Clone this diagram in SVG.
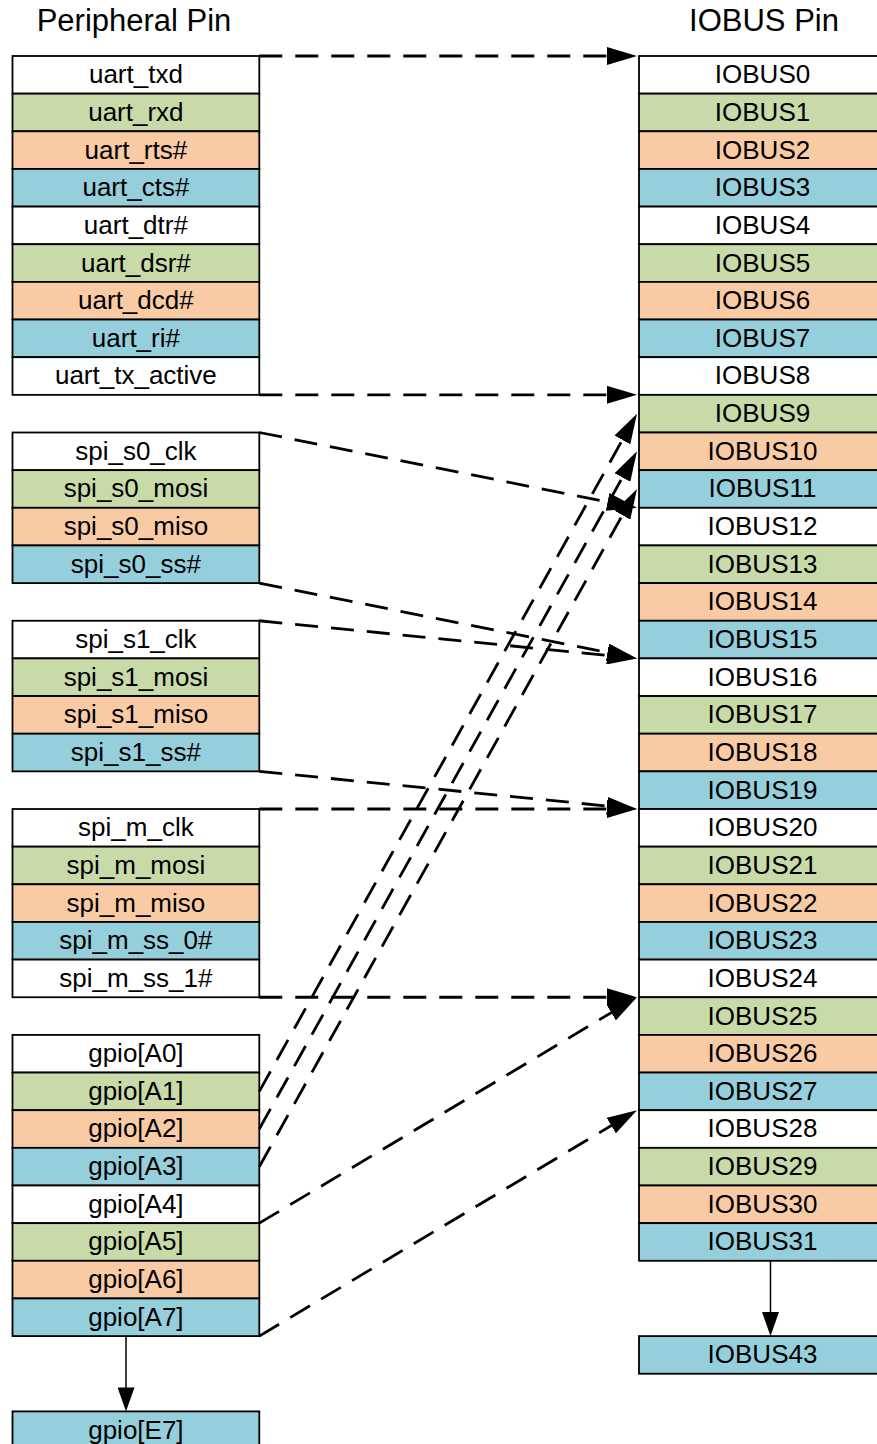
<svg xmlns="http://www.w3.org/2000/svg" width="877" height="1444" viewBox="0 0 877 1444">
<style>
.cell{stroke:#000;stroke-width:1.8}
.w{fill:#ffffff}.g{fill:#c9daa9}.o{fill:#f9cba5}.b{fill:#96cfdc}
text{font-family:"Liberation Sans",Arial,sans-serif;fill:#000}
.lbl{font-size:26px;text-anchor:middle}
.title{font-size:31px;text-anchor:middle}
.dash{fill:none;stroke:#000;stroke-width:2.8;stroke-dasharray:23 13;marker-end:url(#ah)}
.solid{fill:none;stroke:#000;stroke-width:1.5;marker-end:url(#sa)}
</style>
<defs>
<marker id="ah" markerUnits="userSpaceOnUse" markerWidth="30" markerHeight="18" refX="22" refY="9" orient="auto"><path d="M0,0 L30,9 L0,18 z" fill="#000"/></marker>
<marker id="sa" markerUnits="userSpaceOnUse" markerWidth="24" markerHeight="17" refX="20" refY="8.5" orient="auto"><path d="M0,0 L24,8.5 L0,17 z" fill="#000"/></marker>
</defs>
<rect width="877" height="1444" fill="#fff"/>
<text class="title" x="134" y="31">Peripheral Pin</text>
<text class="title" x="764" y="31">IOBUS Pin</text>

<g id="peripheral">
<g id="uart_txd" transform="translate(12.5,56)"><rect class="cell w" width="246.8" height="37.65"/><text class="lbl" x="123.4" y="27.3">uart_txd</text></g>
<g id="uart_rxd" transform="translate(12.5,93.65)"><rect class="cell g" width="246.8" height="37.65"/><text class="lbl" x="123.4" y="27.3">uart_rxd</text></g>
<g id="uart_rts" transform="translate(12.5,131.3)"><rect class="cell o" width="246.8" height="37.65"/><text class="lbl" x="123.4" y="27.3">uart_rts#</text></g>
<g id="uart_cts" transform="translate(12.5,168.95)"><rect class="cell b" width="246.8" height="37.65"/><text class="lbl" x="123.4" y="27.3">uart_cts#</text></g>
<g id="uart_dtr" transform="translate(12.5,206.6)"><rect class="cell w" width="246.8" height="37.65"/><text class="lbl" x="123.4" y="27.3">uart_dtr#</text></g>
<g id="uart_dsr" transform="translate(12.5,244.25)"><rect class="cell g" width="246.8" height="37.65"/><text class="lbl" x="123.4" y="27.3">uart_dsr#</text></g>
<g id="uart_dcd" transform="translate(12.5,281.9)"><rect class="cell o" width="246.8" height="37.65"/><text class="lbl" x="123.4" y="27.3">uart_dcd#</text></g>
<g id="uart_ri" transform="translate(12.5,319.55)"><rect class="cell b" width="246.8" height="37.65"/><text class="lbl" x="123.4" y="27.3">uart_ri#</text></g>
<g id="uart_tx_active" transform="translate(12.5,357.2)"><rect class="cell w" width="246.8" height="37.65"/><text class="lbl" x="123.4" y="27.3">uart_tx_active</text></g>

<g id="spi_s0_clk" transform="translate(12.5,432.5)"><rect class="cell w" width="246.8" height="37.65"/><text class="lbl" x="123.4" y="27.3">spi_s0_clk</text></g>
<g id="spi_s0_mosi" transform="translate(12.5,470.15)"><rect class="cell g" width="246.8" height="37.65"/><text class="lbl" x="123.4" y="27.3">spi_s0_mosi</text></g>
<g id="spi_s0_miso" transform="translate(12.5,507.8)"><rect class="cell o" width="246.8" height="37.65"/><text class="lbl" x="123.4" y="27.3">spi_s0_miso</text></g>
<g id="spi_s0_ss" transform="translate(12.5,545.45)"><rect class="cell b" width="246.8" height="37.65"/><text class="lbl" x="123.4" y="27.3">spi_s0_ss#</text></g>

<g id="spi_s1_clk" transform="translate(12.5,620.75)"><rect class="cell w" width="246.8" height="37.65"/><text class="lbl" x="123.4" y="27.3">spi_s1_clk</text></g>
<g id="spi_s1_mosi" transform="translate(12.5,658.4)"><rect class="cell g" width="246.8" height="37.65"/><text class="lbl" x="123.4" y="27.3">spi_s1_mosi</text></g>
<g id="spi_s1_miso" transform="translate(12.5,696.05)"><rect class="cell o" width="246.8" height="37.65"/><text class="lbl" x="123.4" y="27.3">spi_s1_miso</text></g>
<g id="spi_s1_ss" transform="translate(12.5,733.7)"><rect class="cell b" width="246.8" height="37.65"/><text class="lbl" x="123.4" y="27.3">spi_s1_ss#</text></g>

<g id="spi_m_clk" transform="translate(12.5,809)"><rect class="cell w" width="246.8" height="37.65"/><text class="lbl" x="123.4" y="27.3">spi_m_clk</text></g>
<g id="spi_m_mosi" transform="translate(12.5,846.65)"><rect class="cell g" width="246.8" height="37.65"/><text class="lbl" x="123.4" y="27.3">spi_m_mosi</text></g>
<g id="spi_m_miso" transform="translate(12.5,884.3)"><rect class="cell o" width="246.8" height="37.65"/><text class="lbl" x="123.4" y="27.3">spi_m_miso</text></g>
<g id="spi_m_ss_0" transform="translate(12.5,921.95)"><rect class="cell b" width="246.8" height="37.65"/><text class="lbl" x="123.4" y="27.3">spi_m_ss_0#</text></g>
<g id="spi_m_ss_1" transform="translate(12.5,959.6)"><rect class="cell w" width="246.8" height="37.65"/><text class="lbl" x="123.4" y="27.3">spi_m_ss_1#</text></g>

<g id="gpio_A0" transform="translate(12.5,1034.9)"><rect class="cell w" width="246.8" height="37.65"/><text class="lbl" x="123.4" y="27.3">gpio[A0]</text></g>
<g id="gpio_A1" transform="translate(12.5,1072.55)"><rect class="cell g" width="246.8" height="37.65"/><text class="lbl" x="123.4" y="27.3">gpio[A1]</text></g>
<g id="gpio_A2" transform="translate(12.5,1110.2)"><rect class="cell o" width="246.8" height="37.65"/><text class="lbl" x="123.4" y="27.3">gpio[A2]</text></g>
<g id="gpio_A3" transform="translate(12.5,1147.85)"><rect class="cell b" width="246.8" height="37.65"/><text class="lbl" x="123.4" y="27.3">gpio[A3]</text></g>
<g id="gpio_A4" transform="translate(12.5,1185.5)"><rect class="cell w" width="246.8" height="37.65"/><text class="lbl" x="123.4" y="27.3">gpio[A4]</text></g>
<g id="gpio_A5" transform="translate(12.5,1223.15)"><rect class="cell g" width="246.8" height="37.65"/><text class="lbl" x="123.4" y="27.3">gpio[A5]</text></g>
<g id="gpio_A6" transform="translate(12.5,1260.8)"><rect class="cell o" width="246.8" height="37.65"/><text class="lbl" x="123.4" y="27.3">gpio[A6]</text></g>
<g id="gpio_A7" transform="translate(12.5,1298.45)"><rect class="cell b" width="246.8" height="37.65"/><text class="lbl" x="123.4" y="27.3">gpio[A7]</text></g>
<g id="gpio_E7" transform="translate(12.5,1411.4)"><rect class="cell b" width="246.8" height="37.65"/><text class="lbl" x="123.4" y="27.3">gpio[E7]</text></g>
</g>

<g id="iobus">
<g id="IOBUS0" transform="translate(639,56)"><rect class="cell w" width="247" height="37.65"/><text class="lbl" x="123.5" y="27.3">IOBUS0</text></g>
<g id="IOBUS1" transform="translate(639,93.65)"><rect class="cell g" width="247" height="37.65"/><text class="lbl" x="123.5" y="27.3">IOBUS1</text></g>
<g id="IOBUS2" transform="translate(639,131.3)"><rect class="cell o" width="247" height="37.65"/><text class="lbl" x="123.5" y="27.3">IOBUS2</text></g>
<g id="IOBUS3" transform="translate(639,168.95)"><rect class="cell b" width="247" height="37.65"/><text class="lbl" x="123.5" y="27.3">IOBUS3</text></g>
<g id="IOBUS4" transform="translate(639,206.6)"><rect class="cell w" width="247" height="37.65"/><text class="lbl" x="123.5" y="27.3">IOBUS4</text></g>
<g id="IOBUS5" transform="translate(639,244.25)"><rect class="cell g" width="247" height="37.65"/><text class="lbl" x="123.5" y="27.3">IOBUS5</text></g>
<g id="IOBUS6" transform="translate(639,281.9)"><rect class="cell o" width="247" height="37.65"/><text class="lbl" x="123.5" y="27.3">IOBUS6</text></g>
<g id="IOBUS7" transform="translate(639,319.55)"><rect class="cell b" width="247" height="37.65"/><text class="lbl" x="123.5" y="27.3">IOBUS7</text></g>
<g id="IOBUS8" transform="translate(639,357.2)"><rect class="cell w" width="247" height="37.65"/><text class="lbl" x="123.5" y="27.3">IOBUS8</text></g>
<g id="IOBUS9" transform="translate(639,394.85)"><rect class="cell g" width="247" height="37.65"/><text class="lbl" x="123.5" y="27.3">IOBUS9</text></g>
<g id="IOBUS10" transform="translate(639,432.5)"><rect class="cell o" width="247" height="37.65"/><text class="lbl" x="123.5" y="27.3">IOBUS10</text></g>
<g id="IOBUS11" transform="translate(639,470.15)"><rect class="cell b" width="247" height="37.65"/><text class="lbl" x="123.5" y="27.3">IOBUS11</text></g>
<g id="IOBUS12" transform="translate(639,507.8)"><rect class="cell w" width="247" height="37.65"/><text class="lbl" x="123.5" y="27.3">IOBUS12</text></g>
<g id="IOBUS13" transform="translate(639,545.45)"><rect class="cell g" width="247" height="37.65"/><text class="lbl" x="123.5" y="27.3">IOBUS13</text></g>
<g id="IOBUS14" transform="translate(639,583.1)"><rect class="cell o" width="247" height="37.65"/><text class="lbl" x="123.5" y="27.3">IOBUS14</text></g>
<g id="IOBUS15" transform="translate(639,620.75)"><rect class="cell b" width="247" height="37.65"/><text class="lbl" x="123.5" y="27.3">IOBUS15</text></g>
<g id="IOBUS16" transform="translate(639,658.4)"><rect class="cell w" width="247" height="37.65"/><text class="lbl" x="123.5" y="27.3">IOBUS16</text></g>
<g id="IOBUS17" transform="translate(639,696.05)"><rect class="cell g" width="247" height="37.65"/><text class="lbl" x="123.5" y="27.3">IOBUS17</text></g>
<g id="IOBUS18" transform="translate(639,733.7)"><rect class="cell o" width="247" height="37.65"/><text class="lbl" x="123.5" y="27.3">IOBUS18</text></g>
<g id="IOBUS19" transform="translate(639,771.35)"><rect class="cell b" width="247" height="37.65"/><text class="lbl" x="123.5" y="27.3">IOBUS19</text></g>
<g id="IOBUS20" transform="translate(639,809)"><rect class="cell w" width="247" height="37.65"/><text class="lbl" x="123.5" y="27.3">IOBUS20</text></g>
<g id="IOBUS21" transform="translate(639,846.65)"><rect class="cell g" width="247" height="37.65"/><text class="lbl" x="123.5" y="27.3">IOBUS21</text></g>
<g id="IOBUS22" transform="translate(639,884.3)"><rect class="cell o" width="247" height="37.65"/><text class="lbl" x="123.5" y="27.3">IOBUS22</text></g>
<g id="IOBUS23" transform="translate(639,921.95)"><rect class="cell b" width="247" height="37.65"/><text class="lbl" x="123.5" y="27.3">IOBUS23</text></g>
<g id="IOBUS24" transform="translate(639,959.6)"><rect class="cell w" width="247" height="37.65"/><text class="lbl" x="123.5" y="27.3">IOBUS24</text></g>
<g id="IOBUS25" transform="translate(639,997.25)"><rect class="cell g" width="247" height="37.65"/><text class="lbl" x="123.5" y="27.3">IOBUS25</text></g>
<g id="IOBUS26" transform="translate(639,1034.9)"><rect class="cell o" width="247" height="37.65"/><text class="lbl" x="123.5" y="27.3">IOBUS26</text></g>
<g id="IOBUS27" transform="translate(639,1072.55)"><rect class="cell b" width="247" height="37.65"/><text class="lbl" x="123.5" y="27.3">IOBUS27</text></g>
<g id="IOBUS28" transform="translate(639,1110.2)"><rect class="cell w" width="247" height="37.65"/><text class="lbl" x="123.5" y="27.3">IOBUS28</text></g>
<g id="IOBUS29" transform="translate(639,1147.85)"><rect class="cell g" width="247" height="37.65"/><text class="lbl" x="123.5" y="27.3">IOBUS29</text></g>
<g id="IOBUS30" transform="translate(639,1185.5)"><rect class="cell o" width="247" height="37.65"/><text class="lbl" x="123.5" y="27.3">IOBUS30</text></g>
<g id="IOBUS31" transform="translate(639,1223.15)"><rect class="cell b" width="247" height="37.65"/><text class="lbl" x="123.5" y="27.3">IOBUS31</text></g>
<g id="IOBUS43" transform="translate(639,1336.1)"><rect class="cell b" width="247" height="37.65"/><text class="lbl" x="123.5" y="27.3">IOBUS43</text></g>
</g>

<g id="connectors">
<path class="dash" d="M259.3,56 L629,56"/>
<path class="dash" d="M259.3,394.85 L629,394.85"/>
<path class="dash" d="M259.3,432.5 L629.15,506.24"/>
<path class="dash" d="M259.3,583.1 L629.15,656.84"/>
<path class="dash" d="M259.3,620.75 L629.04,657.61"/>
<path class="dash" d="M259.3,771.35 L629.04,808.21"/>
<path class="dash" d="M259.3,809 L629,809"/>
<path class="dash" d="M259.3,997.25 L629,997.25"/>
<path class="dash" d="M259.3,1091.4 L633.1,420.7"/>
<path class="dash" d="M259.3,1129 L633.1,458.3"/>
<path class="dash" d="M259.3,1166.7 L633.1,496"/>
<path class="dash" d="M259.3,1223.15 L630.13,1001.36"/>
<path class="dash" d="M259.3,1336.1 L630.13,1114.31"/>
<path class="solid" d="M126,1336.1 L126,1407.4"/>
<path class="solid" d="M770.5,1260.8 L770.5,1332.1"/>
</g>
</svg>
